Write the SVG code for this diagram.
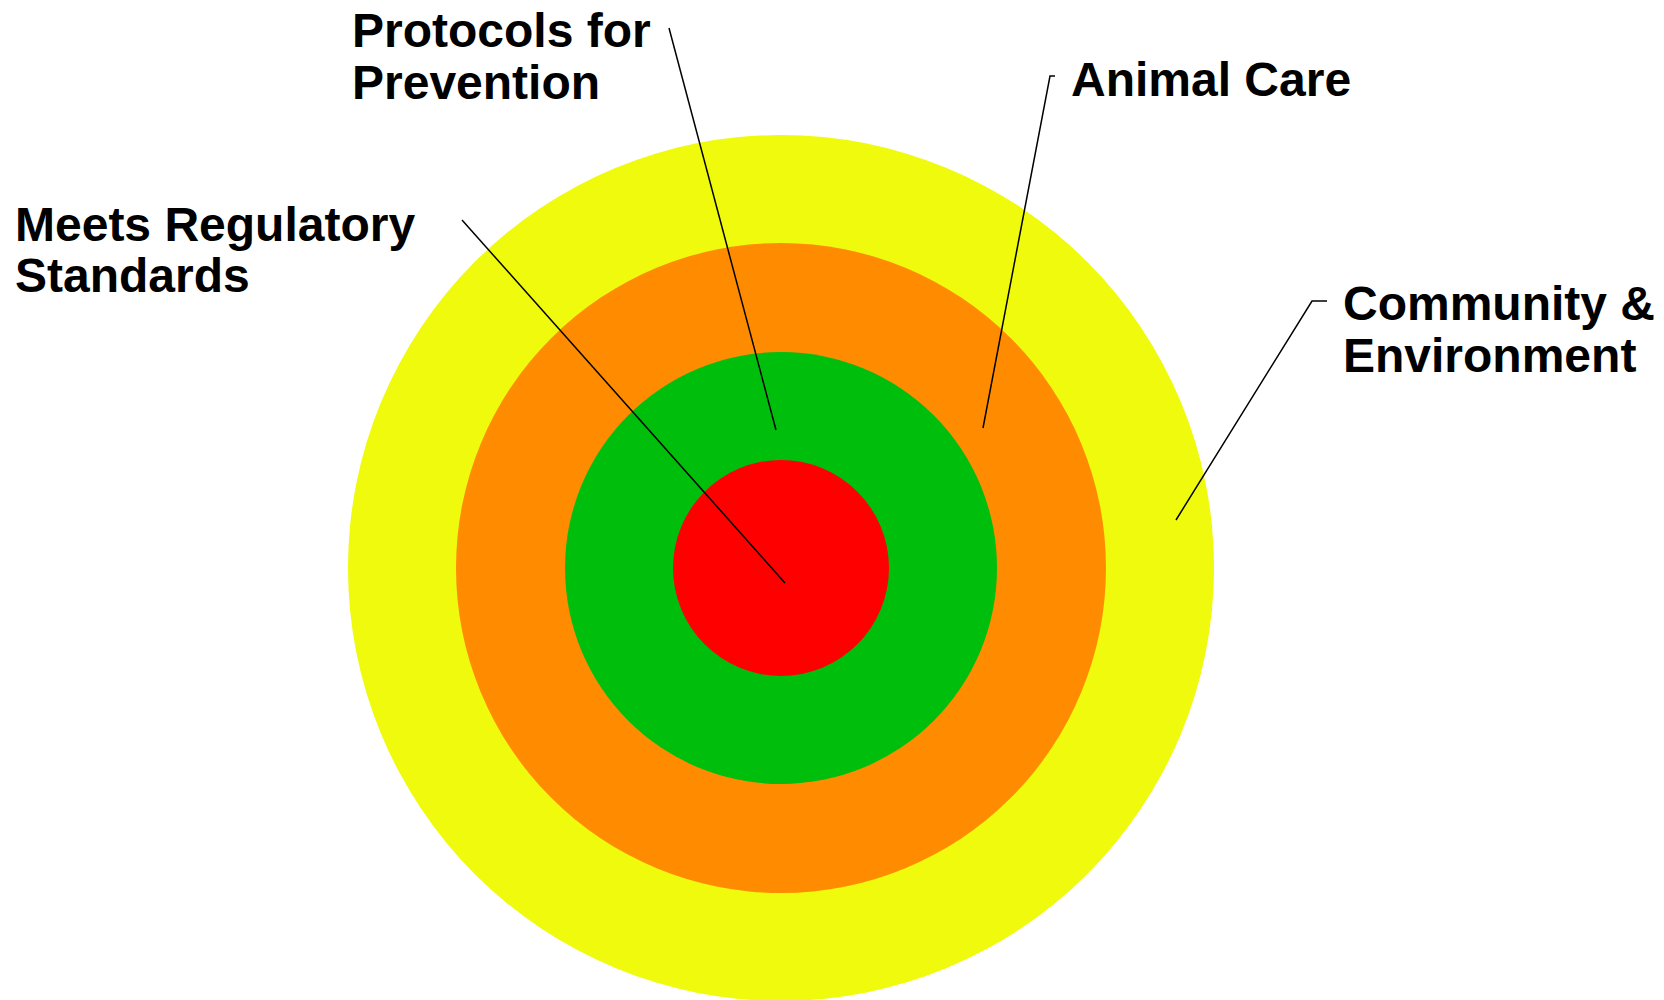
<svg xmlns="http://www.w3.org/2000/svg" width="1664" height="1000" viewBox="0 0 1664 1000">
<style>
.lbl{font-family:"Liberation Sans",Arial,sans-serif;font-weight:bold;font-size:48px;fill:#000}
.ln{fill:none;stroke:#000;stroke-width:1.5}
</style>
<rect width="1664" height="1000" fill="#fff"/>
<g id="ring-community"><circle cx="781" cy="568" r="433" fill="#F0FA0C"/></g>
<g id="ring-animal"><circle cx="781" cy="568" r="325" fill="#FF8C00"/></g>
<g id="ring-protocols"><circle cx="781" cy="568" r="216" fill="#00BE0C"/></g>
<g id="ring-regulatory"><circle cx="781" cy="568" r="108" fill="#FF0000"/></g>
<g id="connectors">
<polyline class="ln" points="462,220 785,583"/>
<polyline class="ln" points="669,28 776,430"/>
<polyline class="ln" points="1055,76 1050,76 983,428"/>
<polyline class="ln" points="1327,301 1312,301 1176,520"/>
</g>
<g id="label-protocols"><text class="lbl" x="352" y="47">Protocols for</text><text class="lbl" x="352" y="99">Prevention</text></g>
<g id="label-regulatory"><text class="lbl" x="15" y="241">Meets Regulatory</text><text class="lbl" x="15" y="292">Standards</text></g>
<g id="label-animal"><text class="lbl" x="1071" y="96">Animal Care</text></g>
<g id="label-community"><text class="lbl" x="1343" y="320">Community &amp;</text><text class="lbl" x="1343" y="372">Environment</text></g>
</svg>
